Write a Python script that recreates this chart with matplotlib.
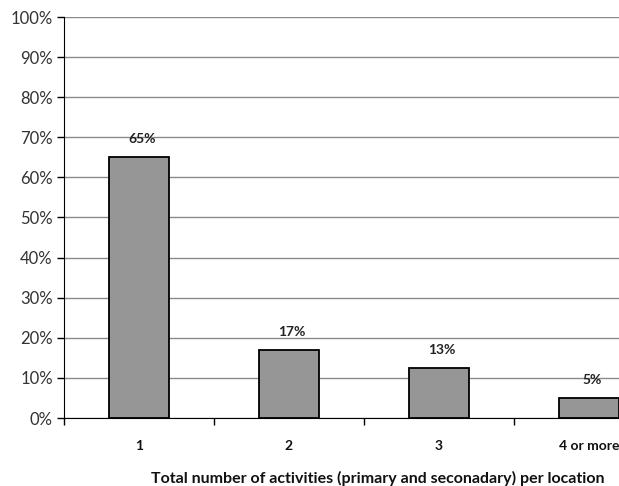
import matplotlib
matplotlib.use("Agg")
import matplotlib.pyplot as plt
from matplotlib.ticker import FixedLocator, FuncFormatter

categories = ["1", "2", "3", "4 or more"]
values = [65, 17, 12.5, 5]
labels = ["65%", "17%", "13%", "5%"]
yticks = [0, 10, 20, 30, 40, 50, 60, 70, 80, 90, 100]

plt.rcParams['font.family'] = ['Lato', 'DejaVu Sans']

fig = plt.figure(figsize=(6.19, 4.86), dpi=100)
ax = fig.add_axes([64/619, 68/486, 600/619, 401/486])

x = list(range(len(categories)))
ax.bar(x, values, width=0.4, color="#969696", edgecolor="black", linewidth=1.3, zorder=3)
for xi, v, lab in zip(x, values, labels):
    ax.text(xi + 0.02, v + 3.0, lab, ha="center", va="bottom", fontsize=10,
            fontweight="bold", color="#222222", zorder=4)

ax.set_xlim(-0.5, len(categories) - 0.5)
ax.set_ylim(0, 100)
ax.set_yticks(yticks)
ax.yaxis.set_major_formatter(FuncFormatter(lambda v, p: f"{int(v)}%"))
ax.yaxis.grid(True, color="#8a8a8a", linewidth=1.0, zorder=0)
ax.set_axisbelow(True)

ax.set_xticks(x)
ax.set_xticklabels(categories, fontweight="bold", fontsize=10, color="#111111")
ax.tick_params(axis="x", which="major", length=0, pad=16)
ax.xaxis.set_minor_locator(FixedLocator([i - 0.5 for i in range(len(categories) + 1)]))
ax.tick_params(axis="x", which="minor", length=5, width=1, color="black")
ax.tick_params(axis="y", length=5, width=1, labelsize=12, labelcolor="#333333", pad=3)

for s in ["top", "right"]:
    ax.spines[s].set_visible(False)
ax.spines["left"].set_color("black")
ax.spines["bottom"].set_color("black")

fig.text(378/619, 1 - 478/486, "Total number of activities (primary and seconadary) per location",
         ha="center", va="center", fontsize=11.5, fontweight="bold", color="#111111")

fig.savefig("out.png", dpi=100)
